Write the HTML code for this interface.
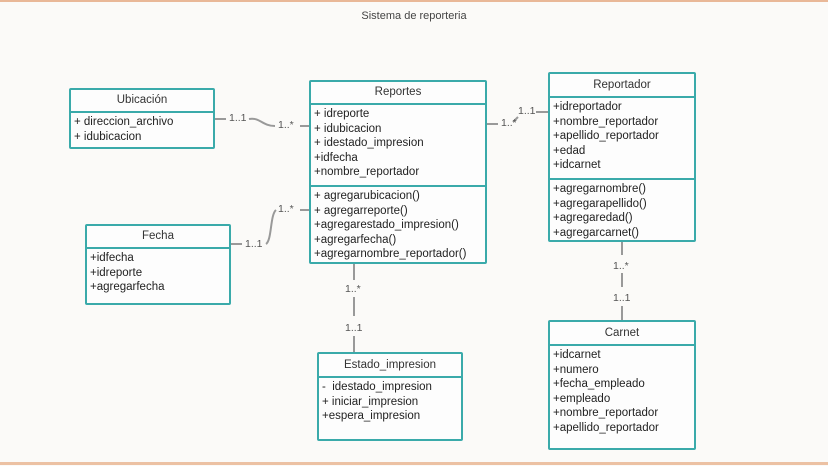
<!DOCTYPE html>
<html><head><meta charset="utf-8"><style>
body{margin:0;width:828px;height:466px;background:#fbfaf8;position:relative;overflow:hidden;font-family:"Liberation Sans",sans-serif;color:#222}
.top{position:absolute;left:0;top:0;width:828px;height:2px;background:#e9b898}
.bot{position:absolute;left:0;top:462px;width:828px;height:3px;background:#ecc1a3}
.title{position:absolute;top:10px;left:0;width:828px;text-align:center;font-size:11px;color:#444}
.box{position:absolute;border:2px solid #3aaaaa;border-radius:2px;background:#fdfdfd;box-sizing:border-box;font-size:11.5px}
.hd{text-align:center;border-bottom:2px solid #3aaaaa;box-sizing:border-box;line-height:19px;color:#333}
.sec{padding:2px 0 2px 3px;line-height:14.5px;white-space:nowrap}
.sec+.sec{border-top:2px solid #3aaaaa}
.l{position:absolute;font-size:10.5px;color:#555}
svg{position:absolute;left:0;top:0}
</style></head><body>
<div class="top"></div><div class="bot"></div>
<div class="title">Sistema de reporteria</div>
<svg width="828" height="466"><g stroke="#999" stroke-width="2" fill="none">
<path d="M214 119 H226"/><path d="M249 119 C260 117 262 126 275 126"/><path d="M300 126 H310"/>
<path d="M230 244 H242"/><path d="M266 244 C272 240 270 215 276 210"/><path d="M300 210 H310"/>
<path d="M486 124 H498"/><path d="M518 117 L513 122"/><path d="M536 112 H549"/>
<path d="M354 263 V280"/><path d="M354 297 V316"/><path d="M354 336 V353"/>
<path d="M622 241 V255"/><path d="M622 273 V287"/><path d="M622 306 V321"/>
</g></svg>
<div class="l" style="left:229px;top:112px">1..1</div>
<div class="l" style="left:278px;top:119px">1..*</div>
<div class="l" style="left:245px;top:238px">1..1</div>
<div class="l" style="left:278px;top:203px">1..*</div>
<div class="l" style="left:501px;top:117px">1..*</div>
<div class="l" style="left:518px;top:105px">1..1</div>
<div class="l" style="left:345px;top:283px">1..*</div>
<div class="l" style="left:345px;top:322px">1..1</div>
<div class="l" style="left:613px;top:260px">1..*</div>
<div class="l" style="left:613px;top:292px">1..1</div>

<div class="box" style="left:69px;top:88px;width:146px;height:61px"><div class="hd" style="height:23px;line-height:21px">Ubicación</div><div class="sec">+ direccion_archivo<br>+ idubicacion</div></div>
<div class="box" style="left:309px;top:80px;width:178px;height:184px"><div class="hd" style="height:23px;line-height:21px">Reportes</div><div class="sec" style="height:80px;box-sizing:border-box">+ idreporte<br>+ idubicacion<br>+ idestado_impresion<br>+idfecha<br>+nombre_reportador</div><div class="sec">+ agregarubicacion()<br>+ agregarreporte()<br>+agregarestado_impresion()<br>+agregarfecha()<br>+agregarnombre_reportador()</div></div>
<div class="box" style="left:85px;top:224px;width:146px;height:81px"><div class="hd" style="height:23px;line-height:21px">Fecha</div><div class="sec">+idfecha<br>+idreporte<br>+agregarfecha</div></div>
<div class="box" style="left:548px;top:72px;width:148px;height:170px"><div class="hd" style="height:24px;line-height:22px">Reportador</div><div class="sec" style="height:80px;box-sizing:border-box">+idreportador<br>+nombre_reportador<br>+apellido_reportador<br>+edad<br>+idcarnet</div><div class="sec">+agregarnombre()<br>+agregarapellido()<br>+agregaredad()<br>+agregarcarnet()</div></div>
<div class="box" style="left:548px;top:320px;width:148px;height:130px"><div class="hd" style="height:24px;line-height:22px">Carnet</div><div class="sec">+idcarnet<br>+numero<br>+fecha_empleado<br>+empleado<br>+nombre_reportador<br>+apellido_reportador</div></div>
<div class="box" style="left:317px;top:352px;width:146px;height:89px"><div class="hd" style="height:24px;line-height:22px">Estado_impresion</div><div class="sec">-&nbsp; idestado_impresion<br>+ iniciar_impresion<br>+espera_impresion</div></div>
</body></html>
